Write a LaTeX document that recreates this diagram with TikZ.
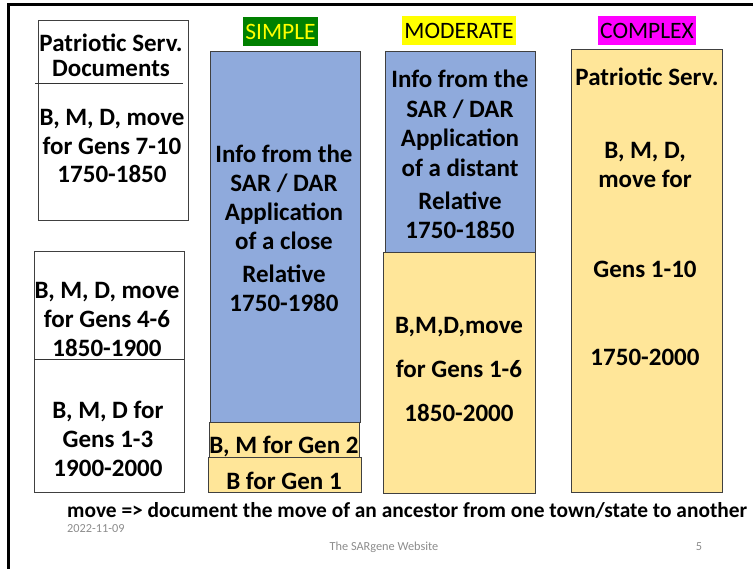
\documentclass[tikz,border=0pt]{standalone}
\usepackage{fontspec}
\setmainfont{Carlito}
\definecolor{sarblue}{HTML}{8FAADC}
\definecolor{sargold}{HTML}{FFE699}
\definecolor{simplegreen}{HTML}{008000}
\definecolor{tagyellow}{HTML}{FFFF00}
\definecolor{tagmagenta}{HTML}{FF00FF}
\tikzset{
  txt/.style={font=\bfseries\fontsize{25}{29}\selectfont, align=center, inner sep=0pt},
  plainbox/.style={draw=black!75, fill=white, line width=0.8pt},
  bluebox/.style={draw=black!75, fill=sarblue, line width=0.8pt},
  goldbox/.style={draw=black!75, fill=sargold, line width=0.8pt},
  tag/.style={font=\fontsize{23.5}{26}\selectfont, inner xsep=2pt, inner ysep=0pt, minimum height=29pt},
  foot/.style={font=\fontsize{12.3}{14}\selectfont, text=black!45, inner sep=0pt}
}
\begin{document}
\begin{tikzpicture}[x=1pt, y=-1pt]
  \useasboundingbox (0,0) rectangle (753,569);
  % slide frame
  \draw[line width=3pt] (8,569) -- (8,5) -- (753,5);

  % left column
  \draw[plainbox] (38,20) rectangle (188,220);
  \draw[black!80, line width=0.8pt] (35,83) -- (183,83);
  \node[txt, font=\bfseries\fontsize{25}{25}\selectfont] (patdocs) at (111,55) {Patriotic Serv.\\Documents};
  \node[txt, font=\bfseries\fontsize{25}{28.5}\selectfont] (gens710) at (112,146) {B, M, D, move\\for Gens 7-10\\1750-1850};

  \draw[plainbox] (34,251) rectangle (184,492);
  \draw[black!80, line width=0.8pt] (34,359) -- (184,359);
  \node[txt] (gens46) at (107,319) {B, M, D, move\\for Gens 4-6\\1850-1900};
  \node[txt] (gens13) at (108,439) {B, M, D for\\Gens 1-3\\1900-2000};

  % simple
  \node[tag, fill=simplegreen, text=tagyellow] (simple) at (280.5,32) {SIMPLE};
  \draw[bluebox] (210,51) rectangle (360,422);
  \node[txt] (closerel) at (284,197.5) {Info from the\\SAR / DAR\\Application\\of a close};
  \node[txt] (closeyrs) at (284,288.5) {Relative\\1750-1980};
  \draw[goldbox] (209,422) rectangle (359,457);
  \node[txt] (gen2) at (284,447) {B, M for Gen 2};
  \draw[goldbox] (208,457) rectangle (361,492);
  \node[txt] (gen1) at (284,481) {B for Gen 1};

  % moderate
  \node[tag, fill=tagyellow] (moderate) at (459,30.5) {MODERATE};
  \draw[bluebox] (385,51) rectangle (535,252);
  \node[txt, font=\bfseries\fontsize{25}{29.5}\selectfont] (distrel) at (460,123.5) {Info from the\\SAR / DAR\\Application\\of a distant};
  \node[txt] (distyrs) at (460,215) {Relative\\1750-1850};
  \draw[goldbox] (383,252) rectangle (535,493);
  \node[txt, font=\bfseries\fontsize{25}{44}\selectfont] (gens16) at (459,369) {B,M,D,move\\for Gens 1-6\\1850-2000};

  % complex
  \node[tag, fill=tagmagenta] (complex) at (647,30.5) {COMPLEX};
  \draw[goldbox] (571,49) rectangle (722,492);
  \node[txt] (patserv) at (647,77) {Patriotic Serv.};
  \node[txt] (bmdmove) at (645,164.5) {B, M, D,\\move for};
  \node[txt] (gens110) at (645,269) {Gens 1-10};
  \node[txt] (allyrs) at (645,357) {1750-2000};

  % notes
  \node[txt, font=\bfseries\fontsize{21.4}{22}\selectfont, anchor=base west] (note) at (67,517.5)
    {move => document the move of an ancestor from one town/state to another};
  \node[foot, anchor=north west] (date) at (67,524) {2022-11-09};
  \node[foot] (site) at (384,547) {The SARgene Website};
  \node[foot] (page) at (699,547) {5};
\end{tikzpicture}
\end{document}
